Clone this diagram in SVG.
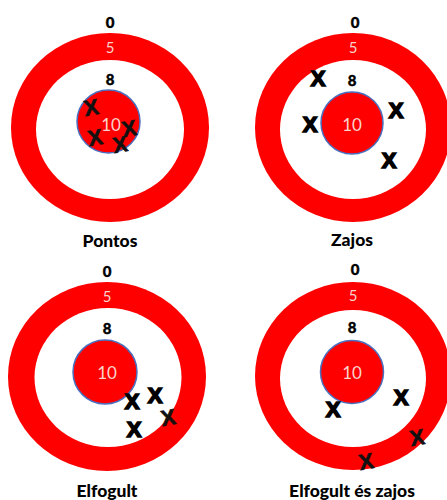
<svg xmlns="http://www.w3.org/2000/svg" width="447" height="500" viewBox="0 0 447 500">
<style>
.ring{fill:#FE0000}
.hole{fill:#FFFFFF}
.bull{fill:#FE0000;stroke:#4A6FBF;stroke-width:1.5}
.num{font-family:Lato,"Open Sans",sans-serif;font-weight:900;font-size:15px;fill:#000;stroke:#000;stroke-width:0.4;text-anchor:middle}
.lt{font-family:Lato,"Open Sans",sans-serif;font-size:15px;fill:#F9D3CB;text-anchor:middle}
.big{font-size:17px}
.cap{font-family:Lato,"Open Sans",sans-serif;font-weight:900;font-size:17.5px;fill:#000;text-anchor:middle}
.x{font-family:"Liberation Sans",Arial,sans-serif;font-weight:900;font-size:22px;fill:#000;stroke:#000;stroke-width:1.6;text-anchor:middle}
.xt{font-family:"Liberation Sans",Arial,sans-serif;font-weight:bold;font-size:22px;fill:#111;stroke:#111;stroke-width:0.6;text-anchor:middle}
</style>
<rect width="447" height="500" fill="#FFFFFF"/>

<g id="pontos">
<ellipse class="ring" cx="110" cy="127.5" rx="99" ry="94.5"/>
<ellipse class="hole" cx="110" cy="129.5" rx="74" ry="69.5"/>
<circle class="bull" cx="108.5" cy="121.5" r="31.5"/>
<text class="num" x="110" y="28">0</text>
<text class="lt" x="110" y="53">5</text>
<text class="num" x="110" y="85">8</text>
<text class="lt big" x="111" y="131">10</text>
<text class="xt" x="91" y="115" transform="rotate(-10 91 107)">X</text>
<text class="xt" x="95" y="145" transform="rotate(-10 95 137)">X</text>
<text class="xt" x="129" y="136" transform="rotate(-10 129 128)">X</text>
<text class="xt" x="120" y="152" transform="rotate(-10 120 144)">X</text>
<text class="cap" x="110" y="247">Pontos</text>
</g>

<g id="zajos">
<ellipse class="ring" cx="353" cy="127.5" rx="98" ry="94.5"/>
<ellipse class="hole" cx="353" cy="129.5" rx="73" ry="69.5"/>
<circle class="bull" cx="352" cy="123" r="31"/>
<text class="num" x="355" y="28">0</text>
<text class="lt" x="353" y="53">5</text>
<text class="num" x="352" y="86">8</text>
<text class="lt big" x="352" y="131">10</text>
<text class="x" x="318" y="86">X</text>
<text class="x" x="310" y="132">X</text>
<text class="x" x="396" y="118">X</text>
<text class="x" x="389" y="168">X</text>
<text class="cap" x="352" y="246">Zajos</text>
</g>

<g id="elfogult">
<ellipse class="ring" cx="107" cy="376.5" rx="99" ry="94.5"/>
<ellipse class="hole" cx="108" cy="377.5" rx="73.5" ry="69.5"/>
<circle class="bull" cx="105" cy="372" r="32"/>
<text class="num" x="107" y="277">0</text>
<text class="lt" x="107" y="302">5</text>
<text class="num" x="107" y="334">8</text>
<text class="lt big" x="107" y="379">10</text>
<text class="x" x="132" y="409">X</text>
<text class="x" x="155" y="403">X</text>
<text class="x" x="134" y="437">X</text>
<text class="xt" x="168" y="425" fill="#2a0000" transform="rotate(-10 168 417)">X</text>
<text class="cap" x="107" y="497">Elfogult</text>
</g>

<g id="elfogult-es-zajos">
<ellipse class="ring" cx="353" cy="376" rx="98" ry="94"/>
<ellipse class="hole" cx="353" cy="378.5" rx="73" ry="68.5"/>
<circle class="bull" cx="352" cy="372" r="31.5"/>
<text class="num" x="355" y="275">0</text>
<text class="lt" x="353" y="301">5</text>
<text class="num" x="352" y="333">8</text>
<text class="lt big" x="352" y="379">10</text>
<text class="x" x="333" y="417">X</text>
<text class="x" x="401" y="405">X</text>
<text class="xt" x="417" y="445" fill="#2a0000" transform="rotate(-10 417 437)">X</text>
<text class="xt" x="366" y="469" fill="#2a0000" transform="rotate(-10 366 461)">X</text>
<text class="cap" x="352" y="497">Elfogult és zajos</text>
</g>

<g id="connectors"></g>
</svg>
